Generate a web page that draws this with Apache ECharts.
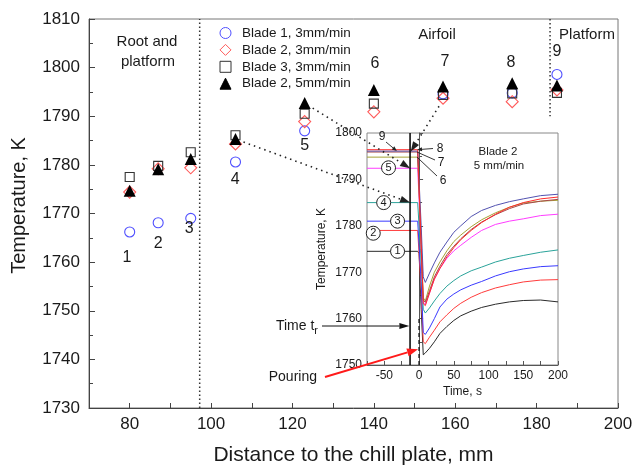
<!DOCTYPE html>
<html><head><meta charset="utf-8">
<script src="https://cdn.jsdelivr.net/npm/echarts@6/dist/echarts.min.js"></script>
<style>html,body{margin:0;padding:0;background:#fff}#c{width:632px;height:465px}</style>
</head><body><div id="c"></div>
<script>
// ---------- main chart data ----------
const distance   = [80, 87, 95, 106, 123, 140, 157, 174, 185];
const blade1_3mm = [1766.2, 1768.1, 1769.0, 1780.6, 1787.0, null, 1794.6, 1794.8, 1798.6];
const blade2_3mm = [1774.4, 1779.2, 1779.4, 1784.3, 1788.9, 1790.9, 1793.7, 1793.0, 1795.4];
const blade3_3mm = [1777.5, 1779.8, 1782.6, 1786.1, 1790.5, 1792.6, 1794.4, 1794.7, 1794.8];
const blade2_5mm = [1774.7, 1779.1, 1781.2, 1785.3, 1792.7, 1795.4, 1796.1, 1796.8, 1796.3];
const pointLabels = ['1','2','3','4','5','6','7','8','9'];
const pointLabelX = [79.3, 87.0, 94.6, 105.9, 123.0, 140.3, 157.5, 173.7, 185.0];
const pointLabelY = [1761.0, 1763.9, 1766.8, 1776.9, 1783.9, 1800.9, 1801.2, 1801.0, 1803.2];
const dividerRoot = [[97.2, 1730], [97.2, 1810]];
const dividerPlat = [[183.3, 1810], [183.3, 1790]];

// ---------- inset data (Blade 2, 5 mm/min) ----------
const insetTime = [-75, -2, 0, 3, 6, 9, 15, 22, 30, 40, 50, 60, 75, 90, 110, 130, 150, 175, 200];
const curve1 = [1774.5,1774.5,1774.0,1762,1752.2,1752.6,1753.6,1755.0,1756.8,1758.3,1759.6,1760.6,1761.6,1762.4,1763.1,1763.6,1763.9,1764.0,1763.6];
const curve2 = [1779.0,1779.0,1778.8,1766,1755.0,1754.6,1756.0,1757.5,1759.3,1760.8,1762.2,1763.3,1764.6,1765.6,1766.6,1767.3,1767.9,1768.3,1768.4];
const curve3 = [1781.0,1781.0,1780.8,1768,1757.0,1756.6,1758.0,1760.0,1762.5,1764.2,1765.3,1766.2,1767.2,1768.0,1769.2,1770.1,1770.7,1771.2,1771.4];
const curve4 = [1785.0,1785.0,1784.8,1772,1762.0,1761.2,1762.3,1763.8,1765.4,1767.0,1768.2,1769.2,1770.3,1771.1,1772.2,1773.0,1773.6,1774.3,1774.8];
const curve5 = [1792.4,1792.4,1792.2,1775,1763.5,1763.0,1765.5,1768.5,1770.8,1773.0,1774.6,1775.8,1777.5,1779.0,1780.3,1781.0,1781.5,1782.2,1782.5];
const curve6 = [1794.8,1794.8,1794.6,1776,1764.5,1763.8,1767.0,1770.0,1772.2,1774.6,1776.6,1778.0,1779.8,1781.3,1782.8,1784.0,1784.9,1785.3,1785.5];
const curve7 = [1795.9,1795.9,1795.7,1776,1764.0,1763.5,1766.0,1769.0,1771.3,1773.8,1775.6,1777.2,1779.2,1780.8,1782.4,1783.7,1784.7,1785.3,1785.7];
const curve8 = [1796.4,1796.4,1796.2,1776,1763.2,1762.8,1765.5,1768.5,1770.8,1773.3,1775.3,1777.0,1779.0,1780.7,1782.5,1784.0,1785.0,1785.8,1786.2];
const curve9 = [1796.1,1796.1,1795.9,1780,1769.0,1767.8,1769.8,1772.0,1774.3,1776.5,1778.6,1780.0,1782.0,1783.3,1784.4,1785.2,1785.8,1786.5,1786.8];
const circleLabels = ['5','4','3','2','1'];
const circleT = [-44, -51, -31, -66, -31];
const circleV = [1792.5, 1785.0, 1781.0, 1778.4, 1774.5];
const releaseLine = [[-13, 1750], [-13, 1800]];
const pouringLine = [[0, 1750], [0, 1760]];

const FONT = 'Liberation Sans, Arial, sans-serif';
const TXT = '#1a1a1a';

const zip = (xs, ys) => xs.map((x, i) => [x, ys[i]]);

const curveDefs = [
  {d: curve1, c: '#2a2a2a'}, {d: curve2, c: '#ff3b3b'}, {d: curve3, c: '#3a3aff'},
  {d: curve4, c: '#2aa39a'}, {d: curve5, c: '#ff3cff'}, {d: curve6, c: '#a5a235'},
  {d: curve7, c: '#a84848'}, {d: curve9, c: '#5252b0'}, {d: curve8, c: '#ff2a2a'}
];

const chart = echarts.init(document.getElementById('c'), null, {renderer: 'canvas'});

const option = {
  animation: false,
  backgroundColor: '#fff',
  textStyle: {fontFamily: FONT, color: TXT},
  grid: [
    {left: 89, top: 19, width: 529, height: 389, show: true, borderColor: '#777', borderWidth: 1, backgroundColor: 'rgba(0,0,0,0)', containLabel: false, outerBoundsMode: 'none'},
    {left: 367, top: 133, width: 191, height: 232, show: true, borderColor: '#888', borderWidth: 1, backgroundColor: '#fff', containLabel: false, outerBoundsMode: 'none', z: 3}
  ],
  xAxis: [
    {gridIndex: 0, type: 'value', min: 70, max: 200, interval: 10,
     name: 'Distance to the chill plate, mm', nameLocation: 'middle', nameGap: 37,
     nameTextStyle: {fontSize: 21, color: TXT, fontFamily: FONT},
     axisLine: {show: true, lineStyle: {color: '#444', width: 1}},
     axisTick: {show: true, inside: true, length: 5, lineStyle: {color: '#444'}},
     axisLabel: {fontSize: 17, color: TXT, margin: 8, fontFamily: FONT,
                 formatter: v => (v % 20 === 0 ? String(v) : '')},
     splitLine: {show: false}},
    {gridIndex: 1, type: 'value', min: -75, max: 200, interval: 25,
     name: 'Time, s', nameLocation: 'middle', nameGap: 21,
     nameTextStyle: {fontSize: 12, color: TXT, fontFamily: FONT},
     axisLine: {show: true, lineStyle: {color: '#555', width: 1}},
     axisTick: {show: true, inside: true, length: 4, lineStyle: {color: '#555'}},
     axisLabel: {fontSize: 12, color: TXT, margin: 5, fontFamily: FONT,
                 formatter: v => (v % 50 === 0 ? String(v) : '')},
     splitLine: {show: false}, z: 4}
  ],
  yAxis: [
    {gridIndex: 0, type: 'value', min: 1730, max: 1810, interval: 10,
     name: 'Temperature, K', nameLocation: 'middle', nameGap: 60, nameRotate: 90,
     nameTextStyle: {fontSize: 20, color: TXT, fontFamily: FONT, padding: [0, 0, 0, 16]},
     axisLine: {show: true, lineStyle: {color: '#444', width: 1}},
     axisTick: {show: true, inside: true, length: 6, lineStyle: {color: '#444'}},
     minorTick: {show: true, splitNumber: 2, length: 4, lineStyle: {color: '#444'}},
     axisLabel: {fontSize: 17, color: TXT, margin: 9, fontFamily: FONT, formatter: v => String(v)},
     splitLine: {show: false}, minorSplitLine: {show: false}},
    {gridIndex: 1, type: 'value', min: 1750, max: 1800, interval: 10,
     name: 'Temperature, K', nameLocation: 'middle', nameGap: 39, nameRotate: 90,
     nameTextStyle: {fontSize: 12, color: TXT, fontFamily: FONT},
     axisLine: {show: true, lineStyle: {color: '#555', width: 1}},
     axisTick: {show: true, inside: true, length: 4, lineStyle: {color: '#555'}},
     minorTick: {show: true, splitNumber: 2, length: 3, lineStyle: {color: '#555'}},
     axisLabel: {fontSize: 12, color: TXT, margin: 5, fontFamily: FONT, formatter: v => String(v)},
     splitLine: {show: false}, minorSplitLine: {show: false}, z: 4}
  ],
  legend: {
    orient: 'vertical', left: 219.5, top: 26, padding: 0, itemWidth: 11, itemHeight: 11, itemGap: 2.9,
    itemStyle: {borderWidth: 1},
    textStyle: {fontSize: 13.5, color: TXT, fontFamily: FONT, padding: [0, 0, 0, 6]},
    data: ['Blade 1, 3mm/min', 'Blade 2, 3mm/min', 'Blade 3, 3mm/min', 'Blade 2, 5mm/min'],
    selectedMode: false
  },
  series: [
    {name: 'divRoot', type: 'line', xAxisIndex: 0, yAxisIndex: 0, data: dividerRoot, showSymbol: false, silent: true,
     lineStyle: {color: '#333', width: 1.5, type: [1.5, 2.5]}},
    {name: 'divPlat', type: 'line', xAxisIndex: 0, yAxisIndex: 0, data: dividerPlat, showSymbol: false, silent: true,
     lineStyle: {color: '#333', width: 1.5, type: [1.5, 2.5]}},
    {name: 'Blade 1, 3mm/min', type: 'scatter', xAxisIndex: 0, yAxisIndex: 0, symbol: 'circle', symbolSize: 10,
     symbolKeepAspect: true,
     itemStyle: {color: 'rgba(255,255,255,0)', borderColor: '#5050ff', borderWidth: 1.1, opacity: 1},
     data: zip(distance, blade1_3mm).filter(p => p[1] != null)},
    {name: 'Blade 2, 3mm/min', type: 'scatter', xAxisIndex: 0, yAxisIndex: 0, symbol: 'diamond', symbolSize: 12,
     symbolKeepAspect: true,
     itemStyle: {color: 'rgba(255,255,255,0)', borderColor: '#ff5a5a', borderWidth: 1.1, opacity: 1},
     data: zip(distance, blade2_3mm)},
    {name: 'Blade 3, 3mm/min', type: 'scatter', xAxisIndex: 0, yAxisIndex: 0, symbol: 'rect', symbolSize: 9,
     symbolKeepAspect: true,
     itemStyle: {color: 'rgba(255,255,255,0)', borderColor: '#333', borderWidth: 1.1, opacity: 1},
     data: zip(distance, blade3_3mm)},
    {name: 'Blade 2, 5mm/min', type: 'scatter', xAxisIndex: 0, yAxisIndex: 0, symbol: 'triangle', symbolSize: 12,
     symbolKeepAspect: true,
     itemStyle: {color: '#000', borderColor: '#000', borderWidth: 0, opacity: 1},
     data: zip(distance, blade2_5mm)},
    {name: 'numbers', type: 'scatter', xAxisIndex: 0, yAxisIndex: 0, symbolSize: 1, silent: true,
     itemStyle: {color: 'rgba(0,0,0,0)', opacity: 1},
     label: {show: true, position: 'inside', fontSize: 16, color: TXT, fontFamily: FONT, formatter: p => p.data[2]},
     data: pointLabels.map((s, i) => [pointLabelX[i], pointLabelY[i], s])},
    ...curveDefs.map((cd, i) => ({
      name: 'curve' + (i + 1), type: 'line', xAxisIndex: 1, yAxisIndex: 1, showSymbol: false, silent: true,
      z: 5, lineStyle: {color: cd.c, width: 1}, data: zip(insetTime, cd.d)
    })),
    {name: 'release', type: 'line', xAxisIndex: 1, yAxisIndex: 1, data: releaseLine, showSymbol: false, silent: true, z: 6,
     lineStyle: {color: '#000', width: 1.5}},
    {name: 'pour', type: 'line', xAxisIndex: 1, yAxisIndex: 1, data: pouringLine, showSymbol: false, silent: true, z: 6,
     lineStyle: {color: '#222', width: 1.5, type: [4, 3]}},
    {name: 'circled', type: 'scatter', xAxisIndex: 1, yAxisIndex: 1, symbol: 'circle', symbolSize: 14, silent: true, z: 7,
     itemStyle: {color: '#fff', borderColor: '#222', borderWidth: 1, opacity: 1},
     label: {show: true, position: 'inside', fontSize: 11, color: TXT, fontFamily: FONT, formatter: p => p.data[2]},
     data: circleLabels.map((s, i) => [circleT[i], circleV[i], s])}
  ]
};

chart.setOption(option);

// ---------- annotations (computed from axes) ----------
const P = (g, pt) => chart.convertToPixel({xAxisIndex: g, yAxisIndex: g}, pt);
function arrow(from, tip, opt) {
  const dx = tip[0] - from[0], dy = tip[1] - from[1];
  const d = Math.hypot(dx, dy), ux = dx / d, uy = dy / d;
  const L = opt.len || 0, W = opt.wid || 0;
  const bx = tip[0] - ux * L, by = tip[1] - uy * L;
  const els = [{type: 'line', z: 200, silent: true,
    shape: {x1: from[0], y1: from[1], x2: L ? bx : tip[0], y2: L ? by : tip[1]},
    style: {stroke: opt.color, lineWidth: opt.lw || 1, lineDash: opt.dash || null}}];
  if (L) els.push({type: 'polygon', z: 201, silent: true,
    shape: {points: [tip, [bx - uy * W / 2, by + ux * W / 2], [bx + uy * W / 2, by - ux * W / 2]]},
    style: {fill: opt.color}});
  return els;
}
const add = (a, b) => [a[0] + b[0], a[1] + b[1]];
const dotted = {color: '#222', lw: 1.6, dash: [1.5, 4], len: 10, wid: 7};
const g = [];
g.push(...arrow(add(P(0, [distance[3], blade2_5mm[3]]), [8, 3]), P(1, [-13, curve4[0]]), dotted));
g.push(...arrow(add(P(0, [distance[4], blade2_5mm[4]]), [8, 5]), P(1, [-13, curve5[0]]), dotted));
g.push(...arrow(add(P(0, [distance[6], blade2_3mm[6]]), [-4, 8]), P(1, [-12, 1796.0]), dotted));
// inset leaders
const thin = {color: '#222', lw: 0.9, len: 5, wid: 4};
g.push(...arrow([386, 142], P(1, [-32, curve9[0]]), thin));
g.push(...arrow([433, 148.5], P(1, [-3, curve8[0]]), thin));
g.push(...arrow([435, 160], P(1, [-3, curve7[0]]), {color: '#222', lw: 0.9}));
g.push(...arrow([437, 176], P(1, [-3, curve6[0]]), {color: '#222', lw: 0.9}));
// Time t_r and Pouring arrows
g.push(...arrow([322, 326], P(1, [-14, 1758.4]), {color: '#111', lw: 1, len: 10, wid: 6}));
g.push(...arrow([325, 377], P(1, [-1.5, 1753.4]), {color: '#ff1a1a', lw: 2, len: 11, wid: 8}));

const T = (x, y, s, size, align, extra) => Object.assign({type: 'text', x, y, z: 210, silent: true,
  style: {text: s, fontSize: size, fontFamily: FONT, fill: TXT, align: align || 'center', verticalAlign: 'middle'}}, extra || {});
g.push(T(147, 42, 'Root and', 15));
g.push(T(148, 62, 'platform', 15));
g.push(T(437, 35, 'Airfoil', 15));
g.push(T(587, 35, 'Platform', 15));
g.push(T(382, 137, '9', 12));
g.push(T(440, 148.5, '8', 12));
g.push(T(441, 163, '7', 12));
g.push(T(443, 181, '6', 12));
g.push(T(498, 152, 'Blade 2', 11.5));
g.push(T(499, 166, '5 mm/min', 11.5));
g.push(T(317, 377, 'Pouring', 14, 'right'));
g.push({type: 'text', x: 318, y: 326, z: 210, silent: true,
  style: {text: 'Time t{s|r}', fontSize: 14, fontFamily: FONT, fill: TXT, align: 'right', verticalAlign: 'middle',
          rich: {s: {fontSize: 11, fontFamily: FONT, fill: TXT, padding: [9, 0, 0, 0]}}}});

chart.setOption({graphic: g});
</script>
</body></html>
